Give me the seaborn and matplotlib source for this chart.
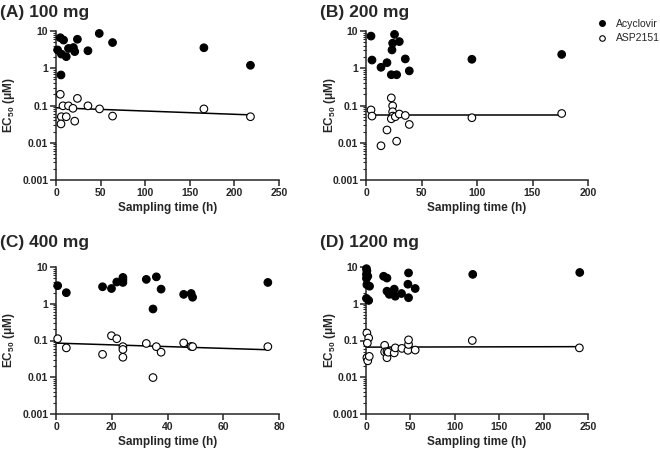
"""
EC50 vs sampling time, four dose panels
"""

import pandas as pd
import matplotlib
matplotlib.use('Agg')
import matplotlib.pyplot as plt
import seaborn as sns
import numpy as np
from matplotlib.lines import Line2D
from matplotlib.ticker import LogLocator, FixedLocator

sns.set_style('ticks')
plt.rcParams['font.family'] = ['Liberation Sans', 'DejaVu Sans']
plt.rcParams['mathtext.fontset'] = 'custom'
plt.rcParams['mathtext.rm'] = 'Liberation Sans:bold'
plt.rcParams['mathtext.bf'] = 'Liberation Sans:bold'

# ---- data ----
panels = ['(A) 100 mg', '(B) 200 mg', '(C) 400 mg', '(D) 1200 mg']
xmax = [250, 200, 80, 250]
xticks = [[0, 50, 100, 150, 200, 250], [0, 50, 100, 150, 200],
          [0, 20, 40, 60, 80], [0, 50, 100, 150, 200, 250]]

A_acy_t = [4.8, 8.5, 1.8, 6, 14, 19.5, 11.5, 21, 24, 35.8, 48.5, 63.4, 165.8, 218, 5.6]
A_acy_y = [6.6, 5.7, 3.1, 2.4, 3.4, 3.6, 2.05, 2.8, 6.0, 2.95, 8.6, 4.9, 3.55, 1.2, 0.66]
A_asp_t = [4.8, 7.8, 14, 19, 24, 35.8, 48.8, 63.4, 6, 11.5, 5.6, 21, 165.8, 218]
A_asp_y = [0.20, 0.098, 0.098, 0.084, 0.155, 0.098, 0.081, 0.052, 0.05, 0.05, 0.032, 0.038, 0.081, 0.05]

B_acy_t = [4.5, 5.4, 13.5, 18.9, 22.8, 27.6, 23.4, 24, 25.7, 30, 35.4, 39, 95.4, 176.3]
B_acy_y = [7.3, 1.66, 1.06, 1.41, 0.67, 0.67, 3.1, 4.7, 8.1, 5.2, 1.78, 0.85, 1.74, 2.35]
B_asp_t = [4.5, 5.4, 13.5, 18.9, 22.8, 24, 24, 24, 22.8, 26.4, 27.6, 30, 35.4, 39, 95.4, 176.3]
B_asp_y = [0.076, 0.052, 0.0083, 0.022, 0.16, 0.098, 0.068, 0.052, 0.044, 0.05, 0.011, 0.059, 0.054, 0.031, 0.047, 0.061]

C_acy_t = [0.6, 3.7, 16.7, 19.9, 21.8, 24, 24, 24, 32.4, 36, 37.7, 34.8, 45.8, 48.5, 49, 76]
C_acy_y = [3.1, 2.0, 2.9, 2.6, 3.9, 5.2, 4.5, 3.8, 4.6, 5.4, 2.5, 0.72, 1.8, 1.9, 1.5, 3.8]
C_asp_t = [0.6, 3.7, 16.7, 19.9, 21.8, 24, 24, 24, 32.4, 36, 37.7, 34.8, 45.8, 48.5, 49, 76]
C_asp_y = [0.112, 0.063, 0.042, 0.135, 0.112, 0.068, 0.057, 0.035, 0.083, 0.068, 0.048, 0.0098, 0.086, 0.069, 0.068, 0.068]

D_acy_t = [0.5, 1, 0.5, 2, 0.5, 1, 4, 0.5, 3, 19.8, 23.6, 23.6, 26.2, 31.8, 32.9, 40, 47.9, 47.2, 47.9, 55.4, 120.2, 240.7]
D_acy_y = [9.0, 7.8, 6.3, 5.6, 4.9, 3.3, 3.0, 1.4, 1.23, 5.6, 5.0, 2.2, 1.8, 2.5, 1.6, 1.9, 6.9, 3.4, 1.46, 2.6, 6.3, 7.1]
D_asp_t = [1, 3, 1.5, 1, 2, 3.7, 21, 21, 23.6, 23.6, 25, 31.8, 33, 40.4, 47.2, 47.9, 47.9, 55.4, 119.7, 240.3]
D_asp_y = [0.16, 0.117, 0.085, 0.034, 0.028, 0.037, 0.074, 0.049, 0.05, 0.034, 0.048, 0.046, 0.063, 0.061, 0.054, 0.078, 0.104, 0.055, 0.1, 0.063]

# ASP2151 trend lines (start/end)
fit_x = [[0, 218], [4.5, 176.3], [0, 76], [0, 240.3]]
fit_y = [[0.087, 0.056], [0.056, 0.056], [0.085, 0.056], [0.066, 0.068]]


def build_frame():
    rows = []
    sets = [(A_acy_t, A_acy_y, A_asp_t, A_asp_y), (B_acy_t, B_acy_y, B_asp_t, B_asp_y),
            (C_acy_t, C_acy_y, C_asp_t, C_asp_y), (D_acy_t, D_acy_y, D_asp_t, D_asp_y)]
    for p, (at, ay, st, sy) in zip(panels, sets):
        rows.append(pd.DataFrame({'panel': p, 'time': at, 'ec50': ay, 'drug': 'Acyclovir'}))
        rows.append(pd.DataFrame({'panel': p, 'time': st, 'ec50': sy, 'drug': 'ASP2151'}))
    return pd.concat(rows, ignore_index=True)


df = build_frame()
palette = {'Acyclovir': 'black', 'ASP2151': 'white'}

fig = plt.figure(figsize=(6.6, 4.5), dpi=100)
W, H = 660, 450
# axes boxes in pixels: left, top, right, bottom
boxes = [(56, 31, 279, 180), (366, 31, 588, 180),
         (56, 267, 279, 414), (366, 267, 588, 414)]
title_pos = [(0, 13), (320, 13), (0, 242), (320, 242)]
ylab_x = [-0.175, -0.125, -0.175, -0.125]
xlab_y = [-0.15, -0.15, -0.152, -0.152]

for i, p in enumerate(panels):
    l, t, r, b = boxes[i]
    ax = fig.add_axes([l / W, 1 - b / H, (r - l) / W, (b - t) / H])
    sub = df[df['panel'] == p]
    sns.scatterplot(data=sub, x='time', y='ec50', hue='drug', palette=palette,
                    edgecolor='black', linewidth=0.8, s=30, ax=ax, legend=False,
                    clip_on=False, zorder=3)
    ax.plot(fit_x[i], fit_y[i], color='black', lw=1.1, zorder=2)

    ax.set_yscale('log')
    ax.set_ylim(0.001, 10)
    ax.set_xlim(0, xmax[i])
    ax.set_xticks(xticks[i])
    ax.yaxis.set_major_locator(FixedLocator([0.001, 0.01, 0.1, 1, 10]))
    ax.set_yticklabels(['0.001', '0.01', '0.1', '1', '10'])
    ax.yaxis.set_minor_locator(LogLocator(base=10, subs=np.arange(2, 10)))
    sns.despine(ax=ax)
    for s in ['left', 'bottom']:
        ax.spines[s].set_linewidth(1.1)
    ax.tick_params(axis='both', which='major', direction='out', length=4, width=1.1,
                   labelsize=7.5, pad=1.5)
    ax.tick_params(axis='y', which='minor', direction='out', length=2, width=0.8)
    for lab in ax.get_xticklabels() + ax.get_yticklabels():
        lab.set_fontweight('bold')

    ax.set_xlabel('Sampling time (h)', fontsize=8.5, fontweight='bold')
    ax.set_ylabel(r'EC$_{50}$ ($\mathregular{\mu}$M)', fontsize=8.5, fontweight='bold')
    ax.xaxis.set_label_coords(0.5, xlab_y[i])
    ax.yaxis.set_label_coords(ylab_x[i], 0.5)

    tx, ty = title_pos[i]
    fig.text(tx / W, 1 - ty / H, p, fontsize=12.5, fontweight='bold',
             ha='left', va='center')

handles = [Line2D([], [], marker='o', ls='', markerfacecolor='black',
                  markeredgecolor='black', markersize=4),
           Line2D([], [], marker='o', ls='', markerfacecolor='white',
                  markeredgecolor='black', markersize=4, markeredgewidth=0.8)]
fig.legend(handles, ['Acyclovir', 'ASP2151'], loc='upper left',
           bbox_to_anchor=(593 / W, 1 - 14.5 / H), frameon=False, fontsize=7.5,
           handletextpad=0.8, labelspacing=0.45, borderaxespad=0, handlelength=1)

fig.savefig('out.png', dpi=100)
